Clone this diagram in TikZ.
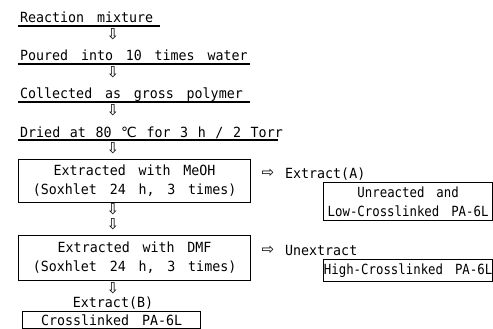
\documentclass[tikz,border=0pt]{standalone}
\usepackage{fontspec}
\newfontfamily\mono[FakeStretch=0.95, WordSpace=1.6]{DejaVu Sans Mono}
\newfontfamily\monod[FakeStretch=0.951, WordSpace=1.2]{DejaVu Sans Mono}
\newfontfamily\sym{DejaVu Sans}
\newcommand\fz{\fontsize{14pt}{19pt}\selectfont}
\newcommand\afz{\fontsize{15pt}{19pt}\selectfont}
\newcommand\nrw[1]{\scalebox{0.93}[1]{#1}}
\begin{document}
\begin{tikzpicture}[x=1pt,y=-1pt,
  txt/.style={font=\mono\fz, inner sep=0pt, anchor=base west},
  ctr/.style={font=\mono\fz, inner sep=0pt, anchor=base},
  ul/.style={line width=1.2pt},
  darr/.style={font=\sym\afz, inner sep=0pt},
  box/.style={draw, line width=1.2pt, font=\mono\fz, align=center, inner sep=0pt, anchor=north west}]
\useasboundingbox (0,0) rectangle (493,329);
% main column
\node[txt] (r1) at (20,23) {Reaction mixture};
\coordinate (u1a) at (18,26); \coordinate (u1b) at (160,26);
\draw[ul] (u1a) -- (u1b);
\node[darr] (d1) at (113,34) {⇩};
\node[txt] (r2) at (20,61) {Poured into 10 times water};
\coordinate (u2a) at (18,64); \coordinate (u2b) at (250,64);
\draw[ul] (u2a) -- (u2b);
\node[darr] (d2) at (113,72) {⇩};
\node[txt] (r3) at (20,99) {Collected as gross polymer};
\coordinate (u3a) at (18,102); \coordinate (u3b) at (250,102);
\draw[ul] (u3a) -- (u3b);
\node[darr] (d3) at (113,110) {⇩};
\node[txt, font=\monod\fz] (r4) at (20,137) {Dried at 80 {\sym ℃} for 3 h / 2 Torr};
\coordinate (u4a) at (18,140); \coordinate (u4b) at (278,140);
\draw[ul] (u4a) -- (u4b);
\node[darr] (d4) at (113,148) {⇩};
\node[box, minimum width=232pt, minimum height=43pt] (b1) at (18,159) {Extracted with MeOH\\(Soxhlet 24 h, 3 times)};
\node[darr] (d5) at (113,209) {⇩};
\node[darr] (d6) at (113,224) {⇩};
\node[box, minimum width=232pt, minimum height=45pt] (b2) at (18,235) {Extracted with DMF\\(Soxhlet 24 h, 3 times)};
\node[darr] (d7) at (113,288) {⇩};
\node[ctr] (eb) at (113,307) {Extract(B)};
\node[box, minimum width=178pt, minimum height=17pt] (b3) at (22,311) {Crosslinked PA-6L};
% side results
\node[darr] (ra) at (268,173) {⇨};
\node[txt] (ea) at (285,178) {Extract(A)};
\node[box, minimum width=169pt, minimum height=38pt] (ba) at (323,182) {\nrw{Unreacted and}\\\nrw{Low-Crosslinked PA-6L}};
\node[darr] (rb) at (268,250) {⇨};
\node[txt] (ub) at (285,255) {Unextract};
\node[box, minimum width=169pt, minimum height=22pt] (bb) at (323,259) {\nrw{High-Crosslinked PA-6L}};
\end{tikzpicture}
\end{document}
